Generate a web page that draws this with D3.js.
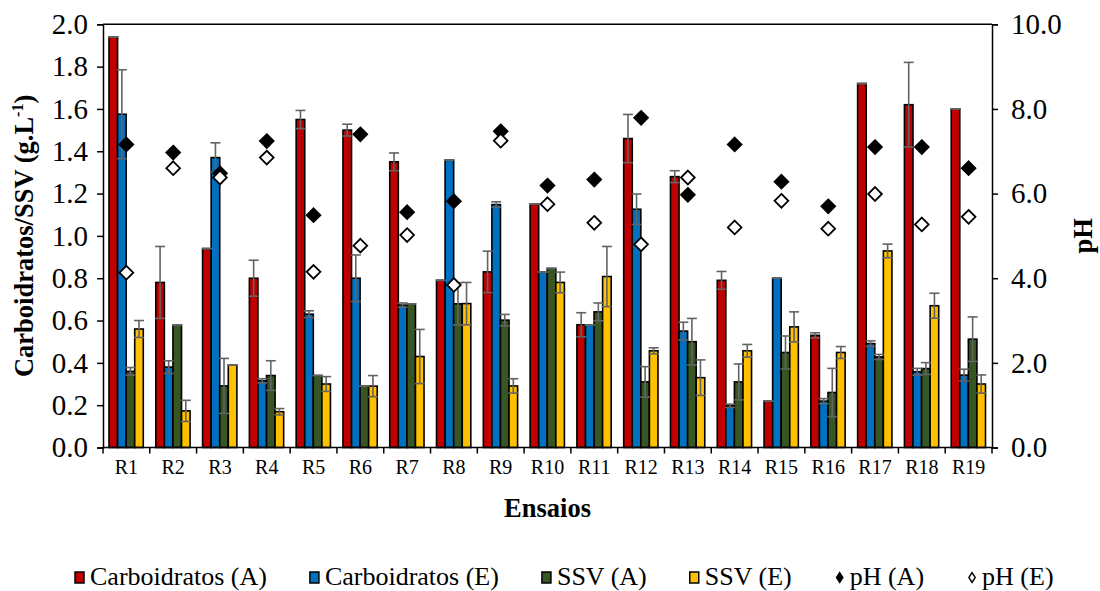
<!DOCTYPE html>
<html>
<head>
<meta charset="utf-8">
<script src="https://cdn.jsdelivr.net/npm/d3@7"></script>
<style>
  html, body { margin: 0; padding: 0; background: #fff; }
  svg { display: block; font-family: "Liberation Serif", "Times New Roman", serif; }
</style>
</head>
<body>
<svg id="chart" width="1100" height="591"></svg>
<script>
// Ensaios (runs)
const categories = ["R1","R2","R3","R4","R5","R6","R7","R8","R9","R10","R11","R12","R13","R14","R15","R16","R17","R18","R19"];

// Carboidratos afluente / efluente (g.L-1) with standard deviations
const carbA    = [1.94, 0.78, 0.94, 0.80, 1.55, 1.50, 1.35, 0.79, 0.83, 1.15, 0.58, 1.46, 1.28, 0.79, 0.22, 0.53, 1.72, 1.62, 1.60];
const carbAErr = [0, 0.17, 0, 0.085, 0.043, 0.028, 0.042, 0, 0.098, 0, 0.057, 0.114, 0.028, 0.042, 0, 0.012, 0, 0.20, 0];
const carbE    = [1.575, 0.38, 1.37, 0.315, 0.63, 0.80, 0.673, 1.358, 1.148, 0.829, 0.578, 1.126, 0.55, 0.197, 0.80, 0.219, 0.491, 0.358, 0.342];
const carbEErr = [0.21, 0.03, 0.07, 0.01, 0.016, 0.11, 0.01, 0, 0.013, 0, 0, 0.072, 0.042, 0.008, 0, 0.012, 0.013, 0.016, 0.028];

// SSV afluente / efluente (g.L-1) with standard deviations
const ssvA    = [0.36, 0.578, 0.291, 0.34, 0.34, 0.29, 0.679, 0.679, 0.602, 0.846, 0.641, 0.31, 0.50, 0.31, 0.449, 0.26, 0.428, 0.373, 0.512];
const ssvAErr = [0.018, 0, 0.13, 0.07, 0, 0, 0, 0.10, 0.027, 0, 0.042, 0.072, 0.11, 0.085, 0.078, 0.114, 0.012, 0.028, 0.105];
const ssvE    = [0.56, 0.173, 0.389, 0.169, 0.30, 0.29, 0.43, 0.68, 0.291, 0.78, 0.808, 0.457, 0.33, 0.457, 0.57, 0.449, 0.929, 0.67, 0.30];
const ssvEErr = [0.04, 0.05, 0, 0.015, 0.035, 0.05, 0.128, 0.10, 0.034, 0.049, 0.142, 0.014, 0.084, 0.03, 0.071, 0.028, 0.032, 0.059, 0.043];

// pH afluente / efluente
const phA = [7.16, 6.97, 6.48, 7.24, 5.49, 7.40, 5.56, 5.82, 7.47, 6.19, 6.33, 7.79, 5.97, 7.16, 6.28, 5.70, 7.10, 7.10, 6.60];
const phE = [4.13, 6.60, 6.38, 6.85, 4.15, 4.77, 5.02, 3.84, 7.25, 5.75, 5.31, 4.80, 6.38, 5.20, 5.83, 5.17, 5.99, 5.27, 5.45];

const leftTicks  = [0, 0.2, 0.4, 0.6, 0.8, 1.0, 1.2, 1.4, 1.6, 1.8, 2.0];
const rightTicks = [0, 2, 4, 6, 8, 10];

const barSeries = [
  { name: "Carboidratos (A)", values: carbA, errors: carbAErr, color: "#C00000" },
  { name: "Carboidratos (E)", values: carbE, errors: carbEErr, color: "#0070C0" },
  { name: "SSV (A)",          values: ssvA,  errors: ssvAErr,  color: "#375623" },
  { name: "SSV (E)",          values: ssvE,  errors: ssvEErr,  color: "#FFC000" }
];
const pointSeries = [
  { name: "pH (A)", values: phA, fill: "#000000" },
  { name: "pH (E)", values: phE, fill: "#ffffff" }
];

const svg = d3.select("#chart");
const plot = { left: 103, right: 992, top: 24.3, bottom: 447.5 };

const x = d3.scaleBand().domain(categories).range([plot.left, plot.right]).padding(0);
const xInner = d3.scaleBand().domain(barSeries.map(s => s.name))
  .range([6, x.bandwidth() - 6.5]).padding(0);
const y = d3.scaleLinear().domain([0, 2]).range([plot.bottom, plot.top]);
const yPH = d3.scaleLinear().domain([0, 10]).range([plot.bottom, plot.top]);

// frame top line
svg.append("line")
  .attr("x1", plot.left).attr("x2", plot.right)
  .attr("y1", plot.top).attr("y2", plot.top)
  .attr("stroke", "#000").attr("stroke-width", 1.5);

// bars
const groups = svg.append("g").selectAll("g")
  .data(barSeries).join("g");

groups.selectAll("rect")
  .data(s => s.values.map((v, i) => ({ s, v, i })))
  .join("rect")
  .attr("x", d => x(categories[d.i]) + xInner(d.s.name))
  .attr("width", xInner.bandwidth())
  .attr("y", d => y(d.v))
  .attr("height", d => y(0) - y(d.v))
  .attr("fill", d => d.s.color)
  .attr("stroke", "#000")
  .attr("stroke-width", 1.6);

// error bars
const errG = svg.append("g").attr("stroke", "#636363").attr("stroke-width", 1.6);
barSeries.forEach(s => {
  s.values.forEach((v, i) => {
    const cx = x(categories[i]) + xInner(s.name) + xInner.bandwidth() / 2;
    const e = s.errors[i];
    const hw = 5;
    errG.append("line").attr("x1", cx).attr("x2", cx).attr("y1", y(v + e)).attr("y2", y(v - e));
    errG.append("line").attr("x1", cx - hw).attr("x2", cx + hw).attr("y1", y(v + e)).attr("y2", y(v + e));
    errG.append("line").attr("x1", cx - hw).attr("x2", cx + hw).attr("y1", y(v - e)).attr("y2", y(v - e));
  });
});

// pH markers (diamonds)
const diamond = d3.symbol().type(d3.symbolDiamond2).size(120);
pointSeries.forEach(p => {
  svg.append("g").selectAll("path")
    .data(p.values)
    .join("path")
    .attr("d", diamond)
    .attr("transform", (v, i) => `translate(${x(categories[i]) + x.bandwidth() / 2},${yPH(v)})`)
    .attr("fill", p.fill)
    .attr("stroke", "#000")
    .attr("stroke-width", 1.8);
});

// axes
const axisStyle = g => {
  g.selectAll(".domain").attr("stroke", "#000").attr("stroke-width", 1.5);
  g.selectAll(".tick line").attr("stroke", "#000").attr("stroke-width", 1.5);
  g.selectAll("text").attr("fill", "#000").attr("font-family", "Liberation Serif, Times New Roman, serif");
};

const yAxis = svg.append("g")
  .attr("transform", `translate(${plot.left},0)`)
  .call(d3.axisLeft(y).tickValues(leftTicks).tickFormat(d3.format(".1f")).tickSizeOuter(0).tickSize(6).tickPadding(9))
  .call(axisStyle);
yAxis.selectAll("text").attr("font-size", 29);

const yAxisR = svg.append("g")
  .attr("transform", `translate(${plot.right},0)`)
  .call(d3.axisRight(yPH).tickValues(rightTicks).tickFormat(d3.format(".1f")).tickSizeOuter(0).tickSize(6).tickPadding(13))
  .call(axisStyle);
yAxisR.selectAll("text").attr("font-size", 29);

// x axis with ticks at group boundaries
const xAxis = svg.append("g")
  .attr("transform", `translate(0,${plot.bottom})`);
xAxis.append("line")
  .attr("x1", plot.left).attr("x2", plot.right)
  .attr("stroke", "#000").attr("stroke-width", 1.5);
xAxis.selectAll("line.tk")
  .data(categories.concat(["end"]))
  .join("line").attr("class", "tk")
  .attr("x1", (d, i) => plot.left + i * x.step())
  .attr("x2", (d, i) => plot.left + i * x.step())
  .attr("y1", 0).attr("y2", 6)
  .attr("stroke", "#000").attr("stroke-width", 1.5);
xAxis.selectAll("text")
  .data(categories)
  .join("text")
  .attr("x", d => x(d) + x.bandwidth() / 2)
  .attr("y", 26)
  .attr("text-anchor", "middle")
  .attr("font-size", 20)
  .text(d => d);

// axis titles
svg.append("text")
  .attr("x", (plot.left + plot.right) / 2)
  .attr("y", 517)
  .attr("text-anchor", "middle")
  .attr("font-size", 26.5).attr("font-weight", "bold")
  .text("Ensaios");

const yTitle = svg.append("text")
  .attr("transform", `translate(33,${(plot.top + plot.bottom) / 2}) rotate(-90)`)
  .attr("text-anchor", "middle")
  .attr("font-size", 26.5).attr("font-weight", "bold");
yTitle.append("tspan").text("Carboidratos/SSV (g.L");
yTitle.append("tspan").attr("font-size", 16).attr("dy", -10).text("-1");
yTitle.append("tspan").attr("dy", 10).text(")");

svg.append("text")
  .attr("transform", `translate(1092,${(plot.top + plot.bottom) / 2}) rotate(-90)`)
  .attr("text-anchor", "middle")
  .attr("font-size", 26.5).attr("font-weight", "bold")
  .text("pH");

// legend
const legendItems = barSeries.map(s => ({ name: s.name, kind: "rect", color: s.color }))
  .concat(pointSeries.map(p => ({ name: p.name, kind: "diamond", color: p.fill })));
const legend = svg.append("g").attr("transform", "translate(0,577)");
let lx = 75;
legendItems.forEach(item => {
  const g = legend.append("g").attr("transform", `translate(${lx},0)`);
  if (item.kind === "rect") {
    g.append("rect").attr("x", 0).attr("y", -5).attr("width", 9).attr("height", 11)
      .attr("fill", item.color).attr("stroke", "#000").attr("stroke-width", 1.5);
  } else {
    g.append("path").attr("d", d3.symbol().type(d3.symbolDiamond2).size(40)())
      .attr("transform", "translate(5,0.5) scale(0.8,1.25)")
      .attr("fill", item.color).attr("stroke", "#000").attr("stroke-width", 1.5);
  }
  const t = g.append("text").attr("x", 15).attr("y", 8).attr("font-size", 26).text(item.name);
  lx += 15 + t.node().getComputedTextLength() + 43;
});
</script>
</body>
</html>
